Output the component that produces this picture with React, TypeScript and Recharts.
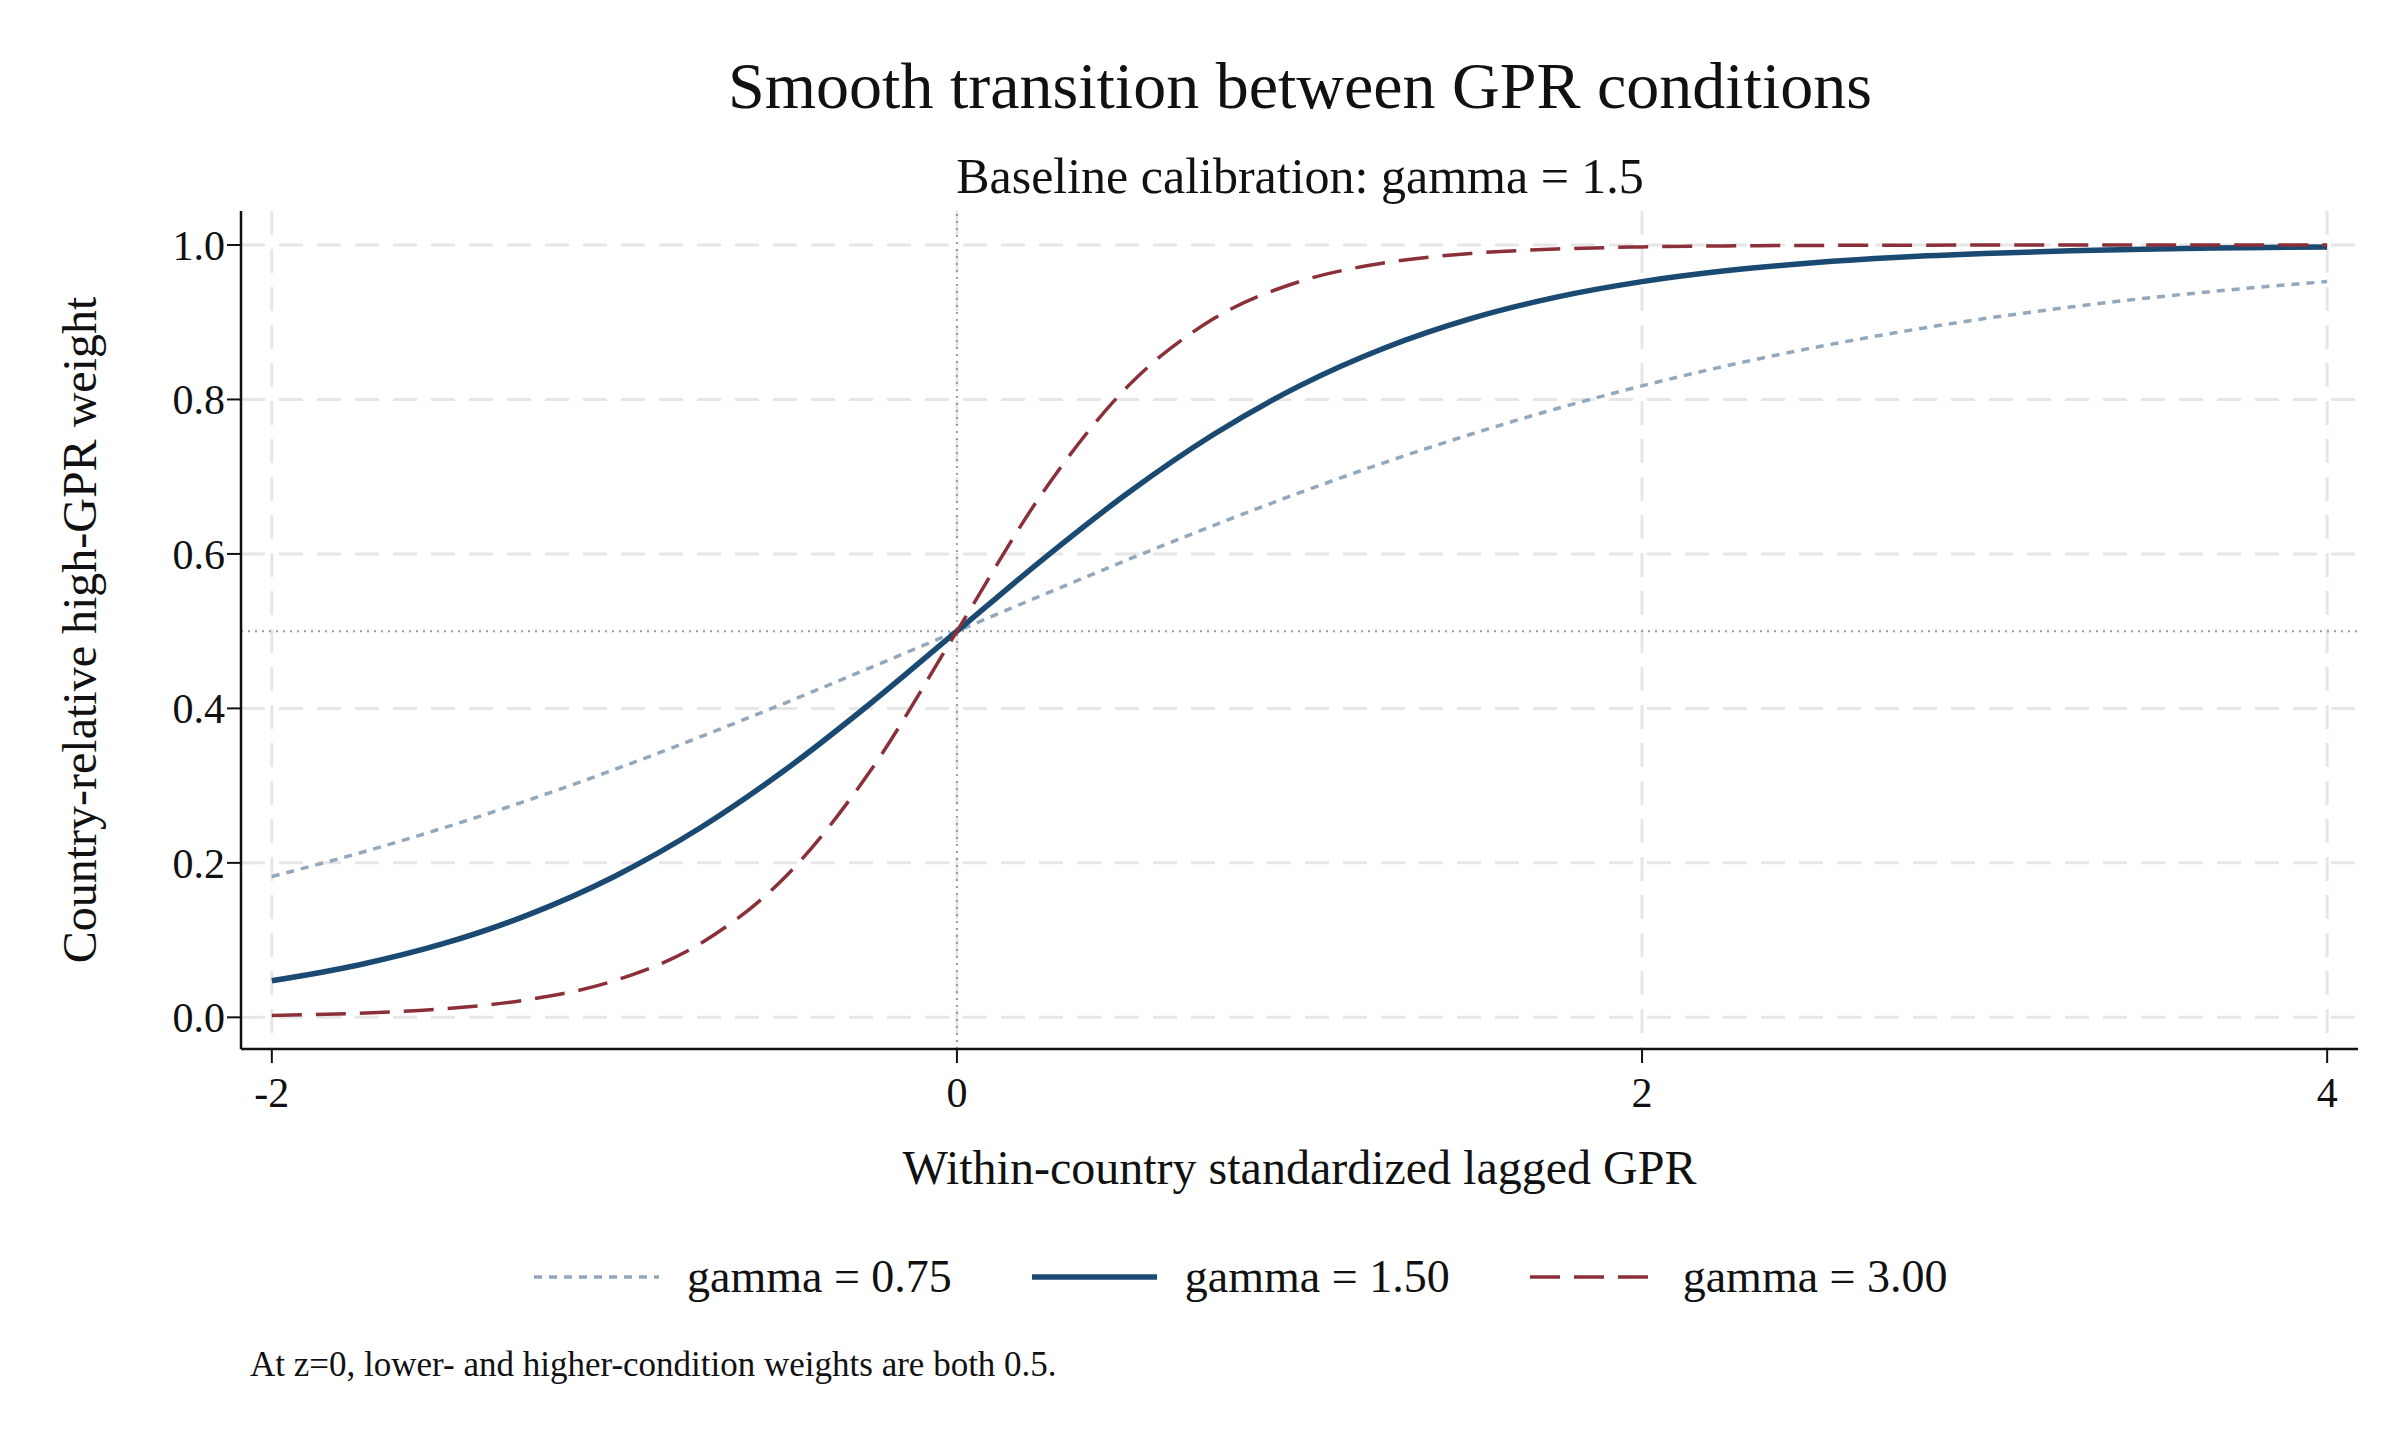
import React from 'react';
import { LineChart, Line, XAxis, YAxis, CartesianGrid, ReferenceLine } from 'recharts';

const zValues = [-2, -1.75, -1.5, -1.25, -1, -0.75, -0.5, -0.25, 0, 0.25, 0.5, 0.75, 1, 1.25, 1.5, 1.75, 2, 2.25, 2.5, 2.75, 3, 3.25, 3.5, 3.75, 4];
const g075 = [0.1824, 0.212, 0.2451, 0.2814, 0.3208, 0.363, 0.4073, 0.4532, 0.5, 0.5468, 0.5927, 0.637, 0.6792, 0.7186, 0.7549, 0.788, 0.8176, 0.8439, 0.867, 0.8872, 0.9047, 0.9196, 0.9325, 0.9433, 0.9526];
const g150 = [0.0474, 0.0675, 0.0953, 0.133, 0.1824, 0.2451, 0.3208, 0.4073, 0.5, 0.5927, 0.6792, 0.7549, 0.8176, 0.867, 0.9047, 0.9325, 0.9526, 0.9669, 0.977, 0.9841, 0.989, 0.9924, 0.9948, 0.9964, 0.9975];
const g300 = [0.0025, 0.0052, 0.011, 0.023, 0.0474, 0.0953, 0.1824, 0.3208, 0.5, 0.6792, 0.8176, 0.9047, 0.9526, 0.977, 0.989, 0.9948, 0.9975, 0.9988, 0.9994, 0.9997, 0.9999, 1.0, 1.0, 1.0, 1.0];
const xTicks = [-2, 0, 2, 4];
const yTicks = [0, 0.2, 0.4, 0.6, 0.8, 1.0];

const data = zValues.map((z, i) => ({ z, a: g075[i], b: g150[i], c: g300[i] }));

const FONT = '"Liberation Serif", "DejaVu Serif", serif';
const C1 = '#93a8bd';
const C2 = '#1a4a72';
const C3 = '#8b2f39';

const LegendItem = ({ color, dash, width, label }: { color: string; dash?: string; width: number; label: string }) => (
  <div style={{ display: 'flex', alignItems: 'center', gap: 28 }}>
    <svg width={125} height={12}>
      <line x1={0} y1={6} x2={125} y2={6} stroke={color} strokeWidth={width} strokeDasharray={dash} />
    </svg>
    <span>{label}</span>
  </div>
);

export default function App() {
  return (
    <div style={{ position: 'relative', width: 2400, height: 1440, margin: '-8px 0 0 -8px', background: '#fff', fontFamily: FONT, color: '#111' }}>
      <LineChart width={2400} height={1440} data={data} margin={{ top: 211, right: 42, left: 141, bottom: 331 }}>
        <CartesianGrid stroke="#e6e6e6" strokeWidth={3} strokeDasharray="24 14" horizontalValues={yTicks} verticalValues={xTicks} />
        <XAxis
          dataKey="z"
          type="number"
          domain={[-2.09, 4.09]}
          ticks={xTicks}
          height={60}
          tick={{ fill: '#111', fontSize: 42, fontFamily: FONT, dy: 12 }}
          tickLine={{ stroke: '#111', strokeWidth: 2 }}
          tickSize={14}
          axisLine={{ stroke: '#111', strokeWidth: 2.5 }}
        />
        <YAxis
          type="number"
          domain={[-0.041, 1.044]}
          ticks={yTicks}
          width={100}
          tickFormatter={(v) => Number(v).toFixed(1)}
          tick={{ fill: '#111', fontSize: 42, fontFamily: FONT }}
          tickLine={{ stroke: '#111', strokeWidth: 2 }}
          tickSize={14}
          axisLine={{ stroke: '#111', strokeWidth: 2.5 }}
        />
        <ReferenceLine x={0} stroke="#999" strokeWidth={2} strokeDasharray="2 5" />
        <ReferenceLine y={0.5} stroke="#999" strokeWidth={2} strokeDasharray="2 5" />
        <Line type="monotone" dataKey="a" stroke={C1} strokeWidth={3.5} strokeDasharray="8 7" dot={false} isAnimationActive={false} />
        <Line type="monotone" dataKey="b" stroke={C2} strokeWidth={5.5} dot={false} isAnimationActive={false} />
        <Line type="monotone" dataKey="c" stroke={C3} strokeWidth={3.5} strokeDasharray="30 14" dot={false} isAnimationActive={false} />
      </LineChart>

      <div style={{ position: 'absolute', top: 48, left: 0, width: 2600, textAlign: 'center', fontSize: 66 }}>
        Smooth transition between GPR conditions
      </div>
      <div style={{ position: 'absolute', top: 147, left: 0, width: 2600, textAlign: 'center', fontSize: 50 }}>
        Baseline calibration: gamma = 1.5
      </div>
      <div style={{ position: 'absolute', top: 1140, left: 241, width: 2117, textAlign: 'center', fontSize: 48 }}>
        Within-country standardized lagged GPR
      </div>
      <div
        style={{
          position: 'absolute', top: 630, left: 80, width: 900, textAlign: 'center', fontSize: 48,
          transform: 'translate(-50%, -50%) rotate(-90deg)', lineHeight: 1,
        }}
      >
        Country-relative high-GPR weight
      </div>
      <div style={{ position: 'absolute', top: 1250, left: 534, display: 'flex', gap: 80, fontSize: 46 }}>
        <LegendItem color={C1} dash="8 7" width={3.5} label="gamma = 0.75" />
        <LegendItem color={C2} width={5.5} label="gamma = 1.50" />
        <LegendItem color={C3} dash="30 14" width={3.5} label="gamma = 3.00" />
      </div>
      <div style={{ position: 'absolute', top: 1345, left: 250, fontSize: 35 }}>
        At z=0, lower- and higher-condition weights are both 0.5.
      </div>
    </div>
  );
}
